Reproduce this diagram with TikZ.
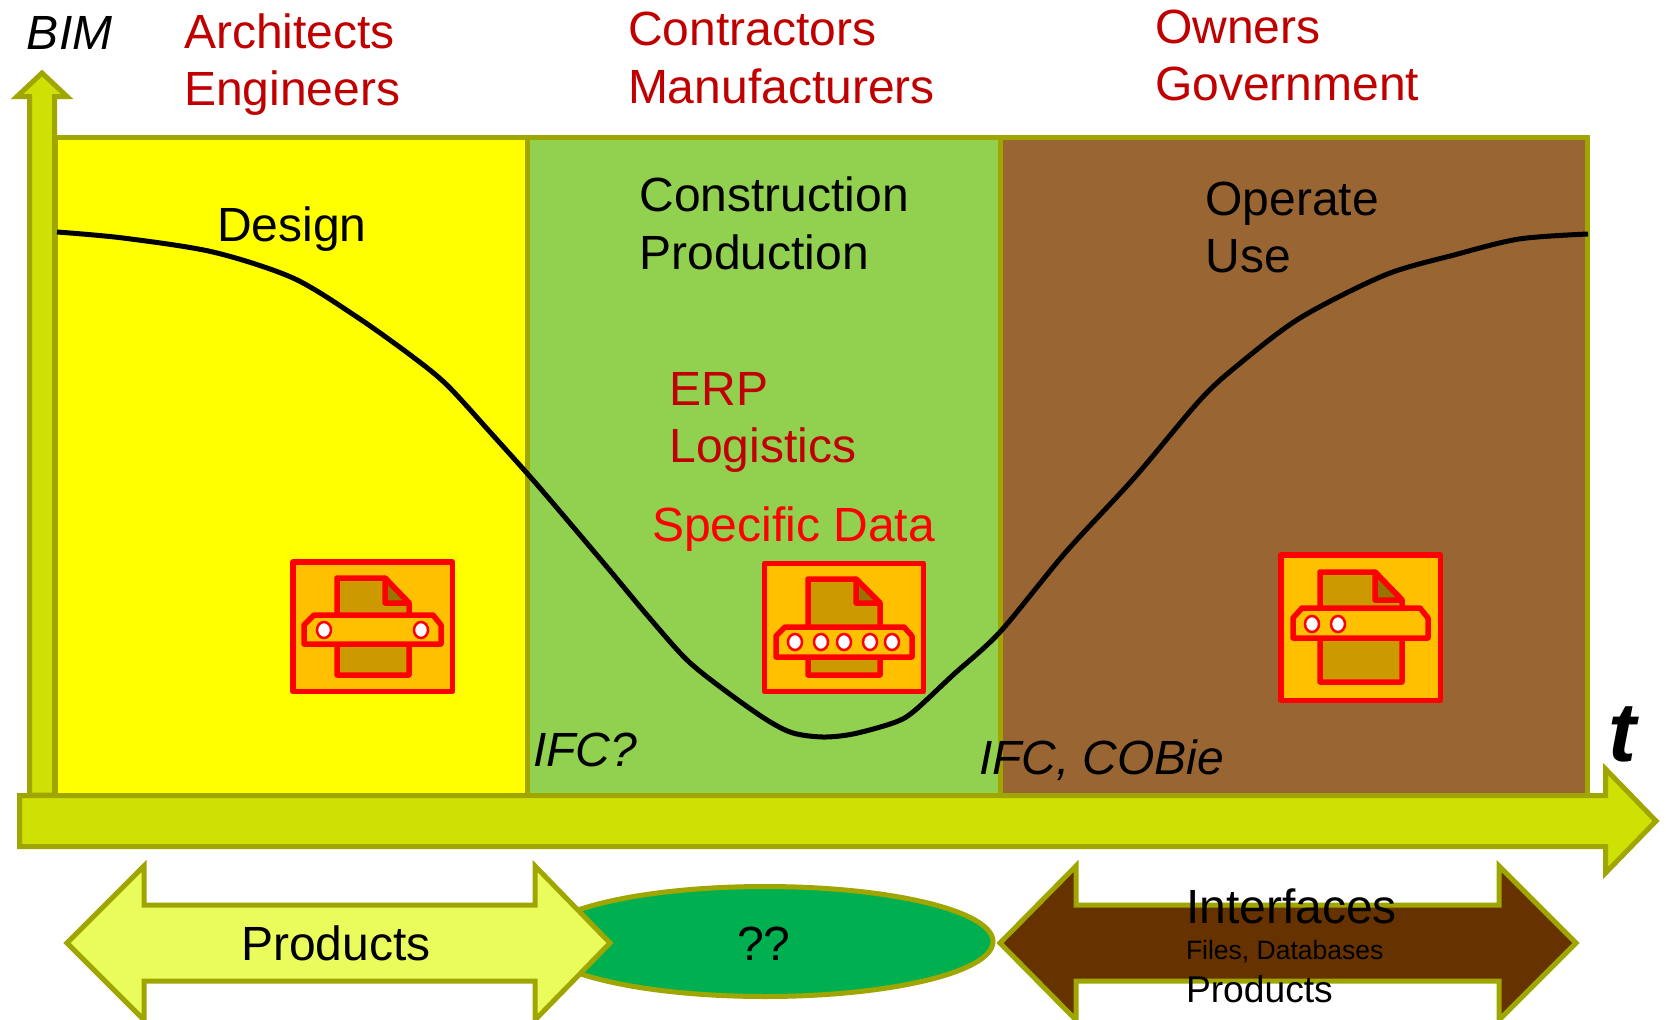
\documentclass[tikz,border=0pt]{standalone}
\usepackage{fontspec}
\setmainfont{Liberation Sans}
\definecolor{olivebd}{HTML}{A0A600}
\definecolor{limefill}{HTML}{CFE005}
\definecolor{darkred}{HTML}{C00000}
\definecolor{purered}{HTML}{FF0000}
\definecolor{panelyellow}{HTML}{FFFF00}
\definecolor{panelgreen}{HTML}{92D050}
\definecolor{panelbrown}{HTML}{996633}
\definecolor{iconbox}{HTML}{FFC000}
\definecolor{iconpaper}{HTML}{CC9900}
\definecolor{iconfold}{HTML}{997300}
\definecolor{lightlime}{HTML}{E9FC5C}
\definecolor{ovalgreen}{HTML}{00B050}
\definecolor{darkbrown}{HTML}{663300}
\tikzset{
  x=1pt,y=-1pt,
  panel/.style={draw=olivebd,line width=5pt,line join=miter},
  bigarrow/.style={draw=olivebd,line width=5pt,line join=miter,fill=limefill},
  bandarrow/.style={draw=olivebd,line width=5pt,line join=miter},
  lbl/.style={inner sep=0pt,outer sep=0pt,anchor=base west,align=left,
    font=\fontsize{48}{57.5}\selectfont},
  redlbl/.style={lbl,text=darkred},
  itlbl/.style={lbl,font=\fontsize{48}{57.5}\selectfont\itshape},
  iconline/.style={draw=purered,line width=5.5pt,line join=round},
  hole/.style={draw=purered,line width=2.5pt,fill=white},
}
\begin{document}
\begin{tikzpicture}
\clip (0,0) rectangle (1666,1020);
% vertical axis
\draw[bigarrow] (29.5,795) -- (29.5,96.5) -- (17,96.5) -- (42,73) -- (67,96.5) -- (54.5,96.5) -- (54.5,795) -- cycle;
% panels
\path[panel,fill=panelyellow] (55,137) rectangle (527,795);
\path[panel,fill=panelgreen] (527,137) rectangle (1000,795);
\path[panel,fill=panelbrown] (1000,137) rectangle (1587,795);
% curve
\draw[black,line width=5pt] plot[smooth,tension=0.5] coordinates {
 (57,232) (123,238) (213,252) (293,278) (357,317) (413,357) (447,385) (490,432)
 (533,480) (563,515) (607,567) (647,615) (687,660) (727,692) (767,720) (793,733)
 (823,737) (853,734) (893,723) (913,712) (953,675) (1000,632) (1065,553) (1135,477)
 (1200,400) (1238,365) (1300,318) (1385,275) (1454,255) (1519,239) (1588,234)};
% icon 1
\path[iconline,fill=iconbox] (293,562) rectangle (452.5,691.5);
\path[iconline,fill=iconpaper] (337,578) -- (385,578) -- (409,603) -- (409,675) -- (337,675) -- cycle;
\path[iconline,fill=iconfold] (385,578) -- (409,603) -- (385,603) -- cycle;
\path[iconline,fill=iconbox] (304,625) -- (314,615) -- (433,615) -- (441,625) -- (441,644) -- (304,644) -- cycle;
\path[hole] (324,630) ellipse [x radius=7,y radius=8];
\path[hole] (421,630) ellipse [x radius=7,y radius=8];
% icon 2
\path[iconline,fill=iconbox] (764.5,563.5) rectangle (923.5,691.5);
\path[iconline,fill=iconpaper] (808,579) -- (856,579) -- (880,603) -- (880,675) -- (808,675) -- cycle;
\path[iconline,fill=iconfold] (856,579) -- (880,603) -- (856,603) -- cycle;
\path[iconline,fill=iconbox] (776,636) -- (785,627) -- (904,627) -- (912,636) -- (912,657) -- (776,657) -- cycle;
\path[hole] (795,642) ellipse [x radius=7,y radius=8];
\path[hole] (821,642) ellipse [x radius=7,y radius=8];
\path[hole] (844,642) ellipse [x radius=7,y radius=8];
\path[hole] (870,642) ellipse [x radius=7,y radius=8];
\path[hole] (892,642) ellipse [x radius=7,y radius=8];
% icon 3
\path[iconline,fill=iconbox] (1281,555) rectangle (1440.5,700.5);
\path[iconline,fill=iconpaper] (1320,572) -- (1375,572) -- (1402,600) -- (1402,682) -- (1320,682) -- cycle;
\path[iconline,fill=iconfold] (1375,572) -- (1402,600) -- (1375,600) -- cycle;
\path[iconline,fill=iconbox] (1293,618) -- (1302,608) -- (1420,608) -- (1428,618) -- (1428,638) -- (1293,638) -- cycle;
\path[hole] (1312,624) ellipse [x radius=7,y radius=8];
\path[hole] (1338,624) ellipse [x radius=7,y radius=8];
% horizontal axis
\draw[bigarrow] (19.5,795.5) -- (1605.5,795.5) -- (1605.5,769) -- (1656,821) -- (1605.5,873) -- (1605.5,846.5) -- (19.5,846.5) -- cycle;
% bottom band
\draw[bandarrow,fill=ovalgreen] (765,941.5) ellipse [x radius=228,y radius=55];
\draw[bandarrow,fill=lightlime] (67,943) -- (144,866) -- (144,905) -- (535,905) -- (535,866) -- (610,943) -- (535,1020) -- (535,981) -- (144,981) -- (144,1020) -- cycle;
\draw[bandarrow,fill=darkbrown] (1000,943) -- (1076,866) -- (1076,905) -- (1499,905) -- (1499,866) -- (1576,943) -- (1499,1020) -- (1499,981) -- (1076,981) -- (1076,1020) -- cycle;
% texts
\node[itlbl] (bim) at (27,49) {BIM};
\node[redlbl] (actors1) at (184,105.5) {Architects\\Engineers};
\node[redlbl] (actors2) at (628,103) {Contractors\\Manufacturers};
\node[redlbl] (actors3) at (1155,100.5) {Owners\\Government};
\node[lbl] (design) at (217,241) {Design};
\node[lbl] (construction) at (639.5,269) {Construction\\Production};
\node[lbl] (operate) at (1205.5,272.5) {Operate\\Use};
\node[redlbl] (erp) at (669.5,462.5) {ERP\\Logistics};
\node[lbl,text=purered] (specific) at (652,541) {Specific Data};
\node[itlbl] (ifcq) at (533,766) {IFC?};
\node[itlbl] (ifcc) at (979,774) {IFC, COBie};
\node[lbl,font=\fontsize{84}{96}\selectfont\bfseries\itshape] (tlabel) at (1608,761) {t};
\node[lbl] (products) at (241,960) {Products};
\node[lbl] (qq) at (737,960) {??};
\node[lbl] (interfaces) at (1186,923) {Interfaces};
\node[lbl,font=\fontsize{26.5}{30}\selectfont] (files) at (1186,959) {Files, Databases};
\node[lbl,font=\fontsize{37.2}{42}\selectfont] (prod2) at (1186,1002) {Products};
\end{tikzpicture}
\end{document}
